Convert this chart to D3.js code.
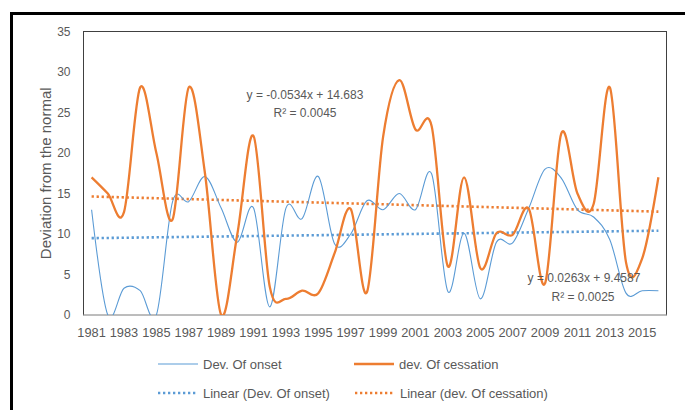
<!DOCTYPE html>
<html>
<head>
<meta charset="utf-8">
<script src="https://cdn.jsdelivr.net/npm/d3@7"></script>
<style>
  html, body { margin: 0; padding: 0; background: #fff; }
  svg { display: block; font-family: "Liberation Sans", Arial, sans-serif; }
</style>
</head>
<body>
<svg id="chart" width="685" height="410"></svg>
<script>
const years = d3.range(1981, 2017);
const onset = [13, 0, 3.3, 3.0, 0, 14, 14, 17.1, 13.2, 9, 13.2, 1, 13.2, 11.9, 17.1, 8.8, 10, 14.1, 13, 15, 13, 17.4, 2.9, 10.1, 2, 9, 8.9, 13.2, 18, 16.9, 13, 12.1, 9.3, 2.7, 3, 3];
const cessation = [17, 15, 12.7, 28.1, 20, 11.8, 28.1, 17.5, 0, 10, 22.1, 3.5, 2, 3, 2.7, 7.6, 13.1, 2.8, 22, 29, 22.9, 23.3, 6, 17, 5.8, 10.1, 9.9, 13.1, 3.9, 22.4, 15, 13.7, 28.1, 6.5, 7, 17];
const yTicks = [0, 5, 10, 15, 20, 25, 30, 35];
const xTickLabels = d3.range(1981, 2016, 2);
const seriesNames = ["Dev. Of onset", "dev. Of cessation", "Linear (Dev. Of onset)", "Linear (dev. Of cessation)"];
// trendline coefficients as printed on the chart: y = slope * x + intercept (x = 1..36)
const trendSlope = [0.0263, -0.0534];
const trendIntercept = [9.4587, 14.683];
const trendR2 = [0.0025, 0.0045];
const equationTexts = ["y = 0.0263x  + 9.4587", "y = -0.0534x  + 14.683"];
const r2Texts = ["R\u00B2 = 0.0025", "R\u00B2 = 0.0045"];

const blue = "#5B9BD5", orange = "#ED7D31", gray = "#595959";
const svg = d3.select("#chart");
const L = 83.5, R = 666.5, T = 31.5, B = 315;

// outer border
svg.append("rect").attr("x", 11.5).attr("y", 13.5).attr("width", 700).attr("height", 430)
  .attr("fill", "none").attr("stroke", "#000").attr("stroke-width", 3);

const x = d3.scaleBand().domain(years).range([L, R]);
const cx = d => x(d) + x.bandwidth() / 2;
const y = d3.scaleLinear().domain([0, 35]).range([B, T]);

svg.append("defs").append("clipPath").attr("id", "clip")
  .append("rect").attr("x", L).attr("y", T).attr("width", R - L).attr("height", B - T);

// plot area border
svg.append("rect").attr("x", L).attr("y", T).attr("width", R - L).attr("height", B - T)
  .attr("fill", "none").attr("stroke", "#404040").attr("stroke-width", 1);
svg.append("line").attr("x1", L).attr("x2", R).attr("y1", B).attr("y2", B)
  .attr("stroke", "#d9d9d9").attr("stroke-width", 1.2);

// axes
const yAxis = svg.append("g").attr("transform", `translate(${L},0)`)
  .call(d3.axisLeft(y).tickValues(yTicks).tickSize(0).tickPadding(13));
yAxis.select(".domain").remove();
yAxis.selectAll("text").attr("fill", gray).style("font-size", "12px");

const xAxis = svg.append("g").attr("transform", `translate(0,${B})`)
  .call(d3.axisBottom(x).tickValues(xTickLabels).tickSize(0).tickPadding(13));
xAxis.select(".domain").remove();
xAxis.selectAll("text").attr("fill", gray).style("font-size", "12.8px");

svg.append("text").attr("transform", `translate(45,${(T + B) / 2}) rotate(-90)`)
  .attr("text-anchor", "middle").attr("dominant-baseline", "central")
  .attr("fill", gray).style("font-size", "15px").text("Deviation from the normal");

const g = svg.append("g").attr("clip-path", "url(#clip)");

// trend lines
[[trendSlope[0], trendIntercept[0], blue], [trendSlope[1], trendIntercept[1], orange]].forEach(([m, b, c]) => {
  const pts = [1, years.length].map(i => [cx(years[i - 1]), y(m * i + b)]);
  g.append("path").attr("d", d3.line()(pts)).attr("fill", "none").attr("stroke", c)
    .attr("stroke-width", 2.6).attr("stroke-dasharray", "2.3 2.7");
});

const line = d3.line().x((d, i) => cx(years[i])).y(d => y(d)).curve(d3.curveCardinal.tension(0));
g.append("path").datum(onset).attr("d", line).attr("fill", "none").attr("stroke", blue).attr("stroke-width", 1.1);
g.append("path").datum(cessation).attr("d", line).attr("fill", "none").attr("stroke", orange).attr("stroke-width", 2.3);

// equations
const eq = svg.append("g").attr("fill", gray).style("font-size", "12px").attr("text-anchor", "middle");
eq.append("text").attr("x", 305).attr("y", 95).attr("dominant-baseline", "central").text(equationTexts[1]);
eq.append("text").attr("x", 305).attr("y", 113).attr("dominant-baseline", "central").text(r2Texts[1]);
eq.append("text").attr("x", 584).attr("y", 278).attr("dominant-baseline", "central").text(equationTexts[0]);
eq.append("text").attr("x", 583).attr("y", 297).attr("dominant-baseline", "central").text(r2Texts[0]);

// legend
const leg = [
  {x: 158, y: 364, c: blue, w: 1.1, dash: null, t: seriesNames[0]},
  {x: 354, y: 364, c: orange, w: 2.3, dash: null, t: seriesNames[1]},
  {x: 158, y: 393, c: blue, w: 2.6, dash: "2.3 2.7", t: seriesNames[2]},
  {x: 355, y: 393, c: orange, w: 2.6, dash: "2.3 2.7", t: seriesNames[3]}
];
leg.forEach(d => {
  svg.append("line").attr("x1", d.x).attr("x2", d.x + 40).attr("y1", d.y).attr("y2", d.y)
    .attr("stroke", d.c).attr("stroke-width", d.w).attr("stroke-dasharray", d.dash);
  svg.append("text").attr("x", d.x + 45).attr("y", d.y).attr("dominant-baseline", "central")
    .attr("fill", gray).style("font-size", "13px").text(d.t);
});
</script>
</body>
</html>
